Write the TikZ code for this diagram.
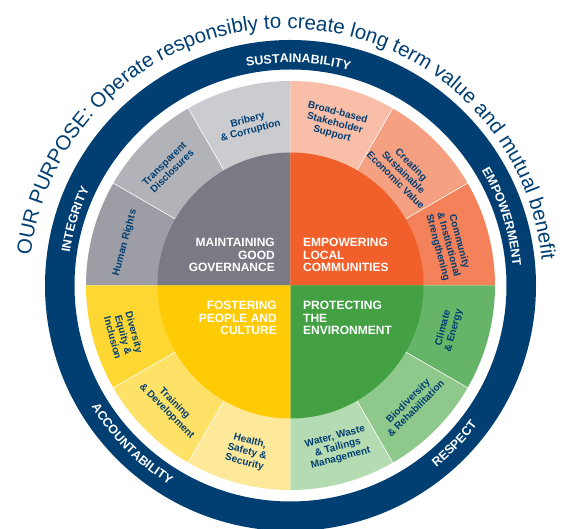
\documentclass[tikz,border=0pt]{standalone}
\usepackage{fontspec}
\setmainfont{Liberation Sans}
\usetikzlibrary{decorations.text}
\definecolor{navy}{RGB}{1,62,114}
\definecolor{gA}{RGB}{203,204,208}
\definecolor{gB}{RGB}{178,179,184}
\definecolor{gC}{RGB}{157,158,165}
\definecolor{gI}{RGB}{121,122,131}
\definecolor{oA}{RGB}{249,190,168}
\definecolor{oB}{RGB}{246,160,130}
\definecolor{oC}{RGB}{243,129,89}
\definecolor{oI}{RGB}{241,95,42}
\definecolor{vA}{RGB}{102,180,104}
\definecolor{vB}{RGB}{143,200,139}
\definecolor{vC}{RGB}{181,219,178}
\definecolor{vI}{RGB}{67,161,68}
\definecolor{yA}{RGB}{254,215,51}
\definecolor{yB}{RGB}{254,225,103}
\definecolor{yC}{RGB}{254,233,154}
\definecolor{yI}{RGB}{255,203,5}
\newcommand\mysector[4]{\fill[#1] (0,0) -- (#2:#4) arc[start angle=#2,end angle=#3,radius=#4] -- cycle;}
\tikzset{
  seglabel/.style={text=navy, font=\bfseries\fontsize{10}{11}\selectfont, align=center, inner sep=0pt},
  corelabel/.style={text=white, font=\bfseries\fontsize{12}{12.5}\selectfont, inner sep=0pt},
  divider/.style={white, line width=0.6pt},
  ringword/.style={decorate, decoration={text along path, text align=center,
      text={|\bfseries\fontsize{12.5}{14}\selectfont\color{white}|#1}}},
}
\begin{document}
\begin{tikzpicture}[x=1pt,y=1pt]
\useasboundingbox (-290.5,-243.5) rectangle (277.5,285.5);
\fill[white] (-290.5,-243.5) rectangle (277.5,285.5);
% navy ring
\fill[navy,even odd rule] (0,0) circle[radius=245.5pt] (0,0) circle[radius=216pt];
% outer segments
\mysector{gA}{90}{120}{204.5pt}
\mysector{gB}{120}{150}{204.5pt}
\mysector{gC}{150}{180}{204.5pt}
\mysector{oA}{60}{90}{204.5pt}
\mysector{oB}{30}{60}{204.5pt}
\mysector{oC}{0}{30}{204.5pt}
\mysector{vA}{-30}{0}{204.5pt}
\mysector{vB}{-60}{-30}{204.5pt}
\mysector{vC}{-90}{-60}{204.5pt}
\mysector{yC}{-120}{-90}{204.5pt}
\mysector{yB}{-150}{-120}{204.5pt}
\mysector{yA}{-180}{-150}{204.5pt}
% dividers
\foreach \a in {30,60,120,150,-30,-60,-120,-150}
  \draw[divider] (\a:133pt) -- (\a:204.5pt);
% inner quadrants
\mysector{gI}{90}{180}{133pt}
\mysector{oI}{0}{90}{133pt}
\mysector{vI}{-90}{0}{133pt}
\mysector{yI}{-180}{-90}{133pt}
% core labels
\node[corelabel, align=right, anchor=east] (gov) at (-15.5,30.5) {MAINTAINING\\GOOD\\GOVERNANCE};
\node[corelabel, align=left, anchor=west] (com) at (12.5,30.5) {EMPOWERING\\LOCAL\\COMMUNITIES};
\node[corelabel, align=right, anchor=east] (ppl) at (-13.5,-32.5) {FOSTERING\\PEOPLE AND\\CULTURE};
\node[corelabel, align=left, anchor=west] (env) at (12.5,-32.5) {PROTECTING\\THE\\ENVIRONMENT};
% segment labels
\node[seglabel, rotate=15] (bri) at (104.5:165pt) {Bribery\\\& Corruption};
\node[seglabel, rotate=45] (tra) at (136:170pt) {Transparent\\Disclosures};
\node[seglabel, rotate=75] (hum) at (165.5:171pt) {Human Rights};
\node[seglabel, rotate=-15] (bro) at (74.7:168pt) {Broad-based\\Stakeholder\\Support};
\node[seglabel, rotate=-45] (cre) at (45:160pt) {Creating\\Sustainable\\Economic Value};
\node[seglabel, rotate=-75] (cis) at (14.5:163pt) {Community\\\& Institutional\\Strengthening};
\node[seglabel, rotate=75] (cli) at (-15.5:164pt) {Climate\\\& Energy};
\node[seglabel, rotate=45] (bio) at (-44.5:170pt) {Biodiversity\\\& Rehabilitation};
\node[seglabel, rotate=15] (wat) at (-73.7:169pt) {Water, Waste\\\& Tailings\\Management};
\node[seglabel, rotate=-15] (hea) at (-104.6:172pt) {Health,\\Safety \&\\Security};
\node[seglabel, rotate=-45] (trn) at (-134.5:171pt) {Training\\\& Development};
\node[seglabel, rotate=-75] (div) at (-163.5:174pt) {Diversity\\Equity \&\\Inclusion};
% ring words
\path[ringword=SUSTAINABILITY] (128:223pt) arc[start angle=128,end angle=48,radius=223pt];
\path[ringword=EMPOWERMENT] (58:223pt) arc[start angle=58,end angle=-22,radius=223pt];
\path[ringword=INTEGRITY] (203:223pt) arc[start angle=203,end angle=123,radius=223pt];
\path[ringword=RESPECT] (-84:233pt) arc[start angle=-84,end angle=-4,radius=233pt];
\path[ringword=ACCOUNTABILITY] (-175:233pt) arc[start angle=-175,end angle=-95,radius=233pt];
% purpose
\path[decorate, decoration={text along path, text align=center,
  text={|\fontsize{20.5}{24}\selectfont\color{navy}|OUR PURPOSE: Operate responsibly to create long term value and mutual benefit}}]
  (-4.5,0) ++(176:257pt) arc[start angle=176,end angle=3,radius=257pt];
\end{tikzpicture}
\end{document}
